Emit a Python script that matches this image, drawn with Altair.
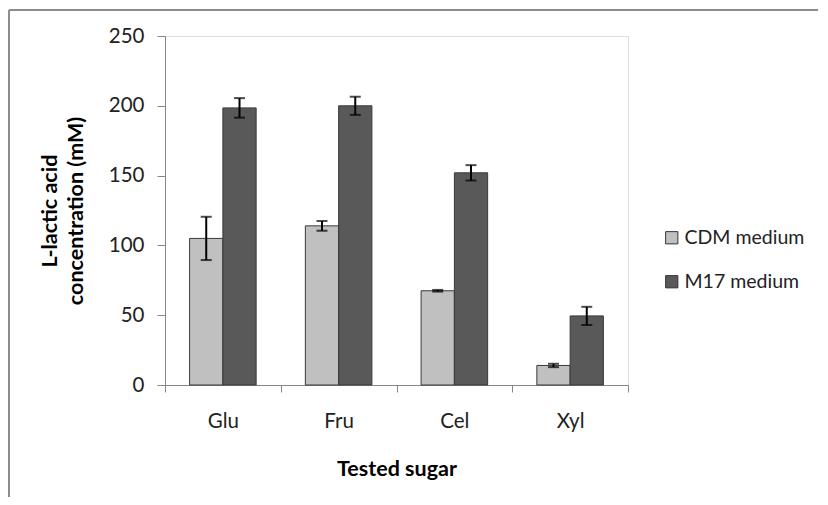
import altair as alt
import pandas as pd

sugars = ["Glu", "Fru", "Cel", "Xyl"]
media = ["CDM medium", "M17 medium"]
cdm_values = [105, 114, 67.5, 14]
cdm_errors = [15.5, 3.5, 0.6, 1.2]
m17_values = [198.5, 200, 152, 49.5]
m17_errors = [7, 6.5, 5.5, 6.5]
y_ticks = [0, 50, 100, 150, 200, 250]

rows = []
for i, s in enumerate(sugars):
    rows.append({"sugar": s, "medium": media[0], "value": cdm_values[i],
                 "lo": cdm_values[i] - cdm_errors[i], "hi": cdm_values[i] + cdm_errors[i]})
    rows.append({"sugar": s, "medium": media[1], "value": m17_values[i],
                 "lo": m17_values[i] - m17_errors[i], "hi": m17_values[i] + m17_errors[i]})
df = pd.DataFrame(rows)

FONT = "Lato"
AXIS_GRAY = "#868686"
YTITLE = ["L-lactic acid", "concentration (mM)"]
LABEL_SIZE = 20.5
TITLE_SIZE = 21.5

x_enc = alt.X("sugar:N", sort=sugars,
              scale=alt.Scale(paddingInner=0, paddingOuter=0),
              axis=alt.Axis(title="Tested sugar", labelAngle=0, tickBand="extent",
                            labelFontSize=LABEL_SIZE, labelFont=FONT, labelColor="#222222",
                            labelPadding=19.5, tickSize=7, tickColor=AXIS_GRAY,
                            domainColor=AXIS_GRAY, titleFont=FONT, titleFontSize=TITLE_SIZE,
                            titleFontWeight="bold", titleColor="black", titlePadding=26))
xoff_enc = alt.XOffset("medium:N", sort=media,
                       scale=alt.Scale(paddingInner=0, paddingOuter=0.739))

base = alt.Chart(df).encode(x=x_enc, xOffset=xoff_enc)

y_scale = alt.Scale(domain=[0, 250], nice=False)

bars = base.mark_bar(stroke="#3a3a3a", strokeWidth=1).encode(
    y=alt.Y("value:Q", scale=y_scale,
            axis=alt.Axis(title=YTITLE, values=y_ticks, grid=False,
                          labelFontSize=LABEL_SIZE, labelFont=FONT, labelColor="#222222",
                          labelPadding=13, tickSize=8, tickColor=AXIS_GRAY,
                          domainColor=AXIS_GRAY, titleFont=FONT, titleFontSize=TITLE_SIZE,
                          titleFontWeight="bold", titleColor="black",
                          titlePadding=21, titleLineHeight=26)),
    color=alt.Color("medium:N", sort=media,
                    scale=alt.Scale(domain=media, range=["#c0c0c0", "#595959"]),
                    legend=alt.Legend(title=None, orient="none", legendX=497, legendY=192,
                                      symbolType="square", symbolSize=150,
                                      symbolStrokeColor="#333333", symbolStrokeWidth=1,
                                      labelFontSize=19.5, labelFont=FONT, labelColor="#222222",
                                      rowPadding=23, labelOffset=3)),
)

err_rule = base.mark_rule(color="black", strokeWidth=2).encode(
    y=alt.Y("lo:Q", scale=y_scale, title=YTITLE), y2="hi:Q")
cap_lo = base.mark_tick(color="black", thickness=2, size=11).encode(
    y=alt.Y("lo:Q", scale=y_scale, title=YTITLE))
cap_hi = base.mark_tick(color="black", thickness=2, size=11).encode(
    y=alt.Y("hi:Q", scale=y_scale, title=YTITLE))

frame_df = pd.DataFrame({"a": [0]})
frame_top = alt.Chart(frame_df).mark_rule(color="#8c8c8c", strokeWidth=2).encode(
    x=alt.value(-156), x2=alt.value(653), y=alt.value(-26))
frame_left = alt.Chart(frame_df).mark_rule(color="#8c8c8c", strokeWidth=2).encode(
    x=alt.value(-156), y=alt.value(-26), y2=alt.value(461))

chart = alt.layer(bars, err_rule, cap_lo, cap_hi, frame_top, frame_left).properties(
    width=463, height=349,
    padding={"left": 157, "top": 28, "right": 190, "bottom": 112},
    autosize=alt.AutoSizeParams(type="none"),
).configure_view(stroke=None).configure(font=FONT, background="white")

chart.save("out.html", embed_options={"renderer": "svg", "actions": False})
